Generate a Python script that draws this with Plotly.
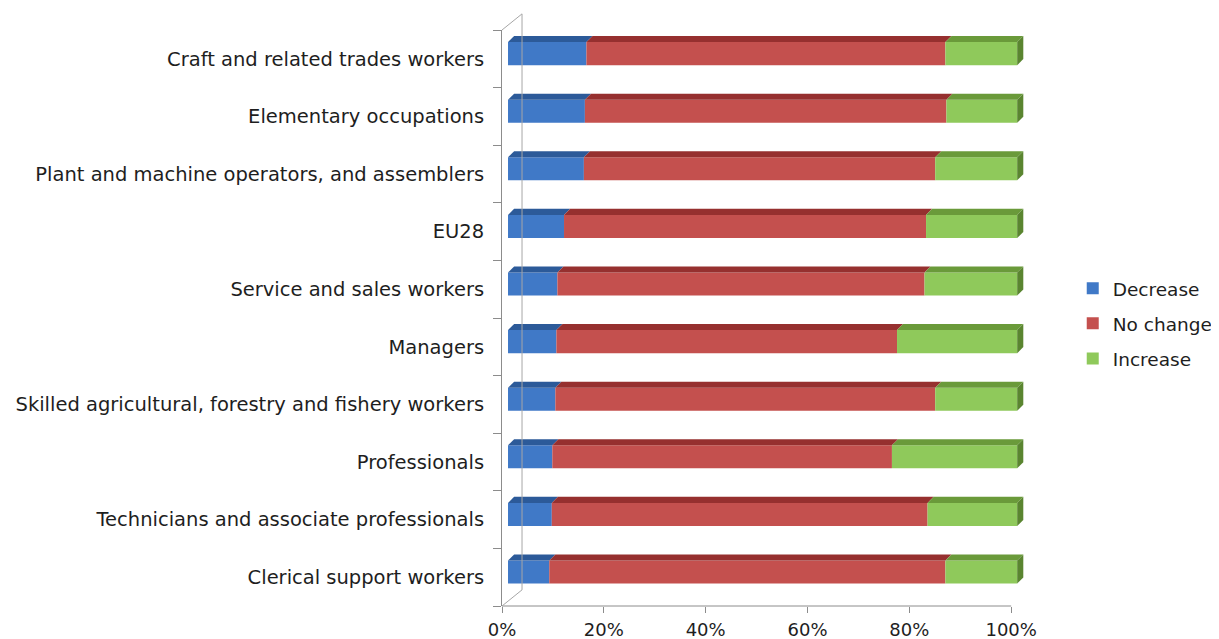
import plotly.graph_objects as go

categories = [
    "Craft and related trades workers",
    "Elementary occupations",
    "Plant and machine operators, and assemblers",
    "EU28",
    "Service and sales workers",
    "Managers",
    "Skilled agricultural, forestry and fishery workers",
    "Professionals",
    "Technicians and associate professionals",
    "Clerical support workers",
]
decrease = [15.4, 15.1, 14.9, 11.0, 9.7, 9.5, 9.3, 8.7, 8.6, 8.1]
no_change = [70.5, 71.0, 69.0, 71.1, 72.1, 66.9, 74.6, 66.7, 73.8, 77.8]
increase = [14.1, 13.9, 16.1, 17.9, 18.2, 23.6, 16.1, 24.6, 17.6, 14.1]
x_ticks = [0, 20, 40, 60, 80, 100]

series = [
    ("Decrease", decrease, "#4079C7", "#2C5A99"),
    ("No change", no_change, "#C4504E", "#96302F"),
    ("Increase", increase, "#8FC95B", "#6A9A3A"),
]

# 3D-look styling parameters (pixel-ish offsets expressed in axis units)
ypos = list(range(len(categories)))
bw = 0.40          # bar thickness (category units)
boff = -0.29       # bar offset (shifted up for depth)
depth_x = 1.18     # depth shift along value axis
dx, dy = 1.2, 0.105

fig = go.Figure()
base = [depth_x] * len(categories)
for gi, (name, vals, col, topcol) in enumerate(series):
    fig.add_trace(go.Bar(
        y=ypos, x=vals, base=base, orientation="h", name=name,
        marker=dict(color=col, line=dict(width=0)), width=bw, offset=boff,
        legendgroup=name, hoverinfo="x+name",
    ))
    for i, v in enumerate(vals):
        x0 = base[i]
        x1 = base[i] + v
        yt = ypos[i] + boff
        fig.add_trace(go.Scatter(
            x=[x0, x1, x1 + dx, x0 + dx, x0],
            y=[yt, yt, yt - dy, yt - dy, yt],
            mode="lines", fill="toself", fillcolor=topcol,
            line=dict(width=0, color=topcol), hoverinfo="skip", showlegend=False,
            legendgroup=name,
        ))
        if gi == len(series) - 1:
            yb = yt + bw
            fig.add_trace(go.Scatter(
                x=[x1, x1 + dx, x1 + dx, x1, x1],
                y=[yt, yt - dy, yb - dy, yb, yt],
                mode="lines", fill="toself", fillcolor="#5A8530",
                line=dict(width=0, color="#5A8530"), hoverinfo="skip", showlegend=False,
                legendgroup=name,
            ))
    base = [b + v for b, v in zip(base, vals)]

fig.update_layout(
    width=1211, height=631,
    margin=dict(l=494, r=190, t=22, b=33, autoexpand=False),
    plot_bgcolor="white", paper_bgcolor="white",
    font=dict(family="DejaVu Sans", size=19.5, color="#1E1E1E"),
    barmode="overlay",
    showlegend=True,
    legend=dict(x=1.083, y=0.49, xanchor="left", yanchor="middle",
                font=dict(size=18.5), tracegroupgap=8, itemwidth=30,
                traceorder="grouped"),
    xaxis=dict(range=[0, 103.5], tickvals=x_ticks, ticktext=[f"{t}%" for t in x_ticks],
               showgrid=False, zeroline=False, showline=False, automargin=False,
               ticks="outside", ticklen=6, tickcolor="#8C8C8C",
               tickfont=dict(size=18), ticklabelstandoff=1, fixedrange=True),
    yaxis=dict(range=[len(categories) - 0.5, -0.5], tickvals=ypos, ticktext=categories,
               showgrid=False, zeroline=False, showline=True, linecolor="#8C8C8C",
               ticks="", ticklabelstandoff=13, automargin=False,
               minor=dict(tickvals=[i - 0.5 for i in range(len(categories) + 1)],
                          ticks="outside", ticklen=8, tickcolor="#8C8C8C"),
               fixedrange=True),
)
# x axis baseline from 0% to 100%
fig.add_shape(type="line", xref="x", yref="paper", x0=0, x1=100, y0=0, y1=0,
              line=dict(color="#8C8C8C", width=1))
# back wall edges
wx, wy_top, wy_bot = 0.038, 1.028, 0.028
fig.add_shape(type="line", xref="paper", yref="paper", x0=wx, x1=wx, y0=wy_top, y1=wy_bot,
              line=dict(color="#A6A6A6", width=1))
fig.add_shape(type="line", xref="paper", yref="paper", x0=wx, x1=0.0, y0=wy_bot, y1=0.0,
              line=dict(color="#A6A6A6", width=1))
fig.add_shape(type="line", xref="paper", yref="paper", x0=0.0, x1=wx, y0=1.0, y1=wy_top,
              line=dict(color="#A6A6A6", width=1))

fig.write_html("out.html")
